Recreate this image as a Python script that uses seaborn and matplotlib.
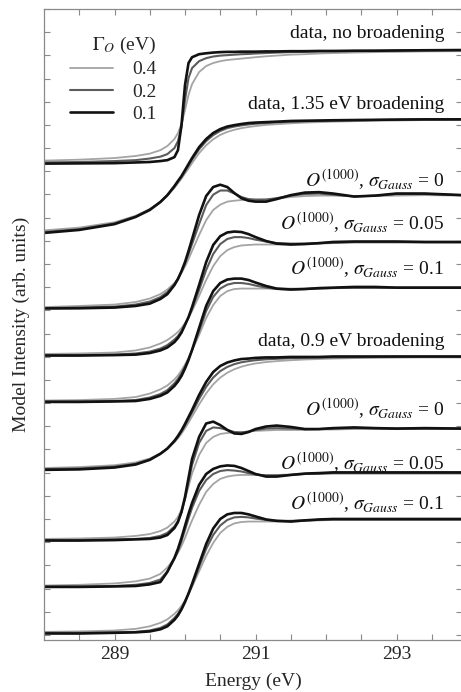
import numpy as np
import pandas as pd
import matplotlib
matplotlib.use('Agg')
import matplotlib.pyplot as plt
import seaborn as sns
from matplotlib.lines import Line2D
from matplotlib.ticker import FixedLocator

sns.set_style('ticks')
plt.rcParams['font.family'] = ['Liberation Serif', 'DejaVu Serif']
plt.rcParams['mathtext.fontset'] = 'stix'

# ---------------- data ----------------
energy = [288.0, 288.5, 289.0, 289.3, 289.5, 289.65, 289.75, 289.85, 289.9, 289.95,
          290.0, 290.05, 290.1, 290.2, 290.3, 290.4, 290.5, 290.6, 290.7, 290.8,
          290.9, 291.0, 291.15, 291.3, 291.5, 291.7, 291.9, 292.1, 292.4, 292.7,
          293.0, 293.4, 293.94]

gamma_levels = ['0.4', '0.2', '0.1']

# data, no broadening
g1_04 = [0.46, 0.50, 0.57, 0.66, 0.76, 0.91, 1.09, 1.39, 1.65, 2.04, 2.64, 3.29, 3.76, 4.28, 4.54, 4.67, 4.75, 4.80, 4.83, 4.86, 4.89, 4.92, 4.96, 4.99, 5.03, 5.05, 5.08, 5.10, 5.12, 5.14, 5.15, 5.17, 5.18]
g1_02 = [0.38, 0.40, 0.44, 0.48, 0.55, 0.63, 0.74, 1.00, 1.30, 1.91, 3.07, 4.02, 4.45, 4.75, 4.88, 4.95, 4.99, 5.01, 5.03, 5.05, 5.06, 5.08, 5.10, 5.12, 5.14, 5.15, 5.17, 5.18, 5.19, 5.20, 5.21, 5.22, 5.23]
g1_01 = [0.33, 0.34, 0.35, 0.38, 0.40, 0.44, 0.48, 0.61, 0.91, 1.99, 3.72, 4.67, 4.92, 5.05, 5.09, 5.12, 5.14, 5.15, 5.15, 5.16, 5.16, 5.16, 5.17, 5.17, 5.18, 5.18, 5.19, 5.19, 5.20, 5.20, 5.21, 5.22, 5.23]
# data, 1.35 eV broadening
g2_04 = [0.45, 0.57, 0.80, 1.08, 1.37, 1.68, 1.95, 2.28, 2.48, 2.68, 2.90, 3.12, 3.35, 3.78, 4.12, 4.38, 4.57, 4.70, 4.79, 4.86, 4.91, 4.95, 5.00, 5.03, 5.07, 5.10, 5.12, 5.14, 5.16, 5.18, 5.19, 5.21, 5.22]
g2_02 = [0.38, 0.50, 0.75, 1.05, 1.35, 1.68, 1.97, 2.34, 2.55, 2.76, 3.00, 3.25, 3.50, 3.95, 4.30, 4.56, 4.74, 4.86, 4.93, 4.98, 5.02, 5.05, 5.08, 5.11, 5.14, 5.16, 5.17, 5.18, 5.20, 5.21, 5.22, 5.23, 5.24]
g2_01 = [0.34, 0.47, 0.72, 1.03, 1.33, 1.67, 1.97, 2.36, 2.58, 2.79, 3.05, 3.31, 3.57, 4.04, 4.39, 4.65, 4.82, 4.93, 4.99, 5.04, 5.08, 5.10, 5.12, 5.14, 5.17, 5.18, 5.19, 5.20, 5.21, 5.22, 5.23, 5.24, 5.24]
# O(1000), sigma = 0 (upper)
g3_04 = [0.14, 0.19, 0.25, 0.36, 0.51, 0.70, 0.90, 1.18, 1.37, 1.61, 1.89, 2.21, 2.56, 3.25, 3.89, 4.33, 4.56, 4.69, 4.73, 4.76, 4.76, 4.76, 4.78, 4.82, 4.89, 4.93, 4.95, 4.95, 4.93, 4.93, 4.95, 4.97, 4.95]
g3_02 = [0.10, 0.12, 0.16, 0.25, 0.38, 0.57, 0.79, 1.13, 1.37, 1.67, 2.02, 2.43, 2.86, 3.72, 4.54, 4.99, 5.17, 5.17, 5.04, 4.89, 4.80, 4.78, 4.78, 4.84, 4.95, 5.02, 5.04, 4.99, 4.91, 4.95, 5.02, 5.02, 4.97]
g3_01 = [0.08, 0.09, 0.12, 0.19, 0.29, 0.49, 0.70, 1.09, 1.35, 1.69, 2.08, 2.56, 3.07, 4.11, 4.93, 5.32, 5.42, 5.32, 5.06, 4.84, 4.73, 4.69, 4.69, 4.80, 4.97, 5.08, 5.10, 5.04, 4.91, 4.95, 5.04, 5.04, 4.97]
# O(1000), sigma = 0.05 (upper)
g4_04 = [0.12, 0.14, 0.18, 0.27, 0.40, 0.57, 0.72, 0.94, 1.07, 1.24, 1.45, 1.69, 1.97, 2.62, 3.31, 3.91, 4.34, 4.60, 4.73, 4.80, 4.82, 4.84, 4.84, 4.84, 4.84, 4.86, 4.88, 4.90, 4.92, 4.92, 4.92, 4.92, 4.92]
g4_02 = [0.07, 0.07, 0.09, 0.14, 0.22, 0.35, 0.50, 0.74, 0.89, 1.11, 1.39, 1.69, 2.06, 2.88, 3.74, 4.43, 4.86, 5.08, 5.16, 5.16, 5.12, 5.05, 4.97, 4.90, 4.88, 4.88, 4.90, 4.92, 4.95, 4.95, 4.95, 4.95, 4.95]
g4_01 = [0.05, 0.05, 0.07, 0.09, 0.16, 0.27, 0.40, 0.63, 0.81, 1.04, 1.37, 1.71, 2.14, 3.09, 4.08, 4.82, 5.20, 5.36, 5.40, 5.38, 5.29, 5.16, 4.99, 4.88, 4.84, 4.86, 4.90, 4.95, 4.97, 4.97, 4.97, 4.95, 4.95]
# O(1000), sigma = 0.1 (upper)
g5_04 = [0.11, 0.13, 0.18, 0.26, 0.41, 0.59, 0.76, 1.02, 1.19, 1.41, 1.66, 1.94, 2.27, 2.94, 3.67, 4.23, 4.62, 4.83, 4.92, 4.94, 4.94, 4.94, 4.94, 4.94, 4.94, 4.94, 4.96, 4.96, 4.96, 4.96, 4.96, 4.96, 4.96]
g5_02 = [0.07, 0.07, 0.09, 0.13, 0.24, 0.39, 0.56, 0.85, 1.04, 1.28, 1.58, 1.92, 2.29, 3.11, 3.97, 4.58, 4.94, 5.11, 5.18, 5.18, 5.14, 5.07, 4.98, 4.92, 4.90, 4.92, 4.94, 4.96, 4.98, 4.98, 4.98, 4.98, 4.98]
g5_01 = [0.05, 0.05, 0.07, 0.09, 0.18, 0.31, 0.46, 0.74, 0.93, 1.17, 1.49, 1.86, 2.29, 3.24, 4.19, 4.83, 5.18, 5.33, 5.37, 5.37, 5.31, 5.20, 5.05, 4.94, 4.90, 4.92, 4.96, 4.98, 5.01, 5.01, 4.98, 4.98, 4.98]
# data, 0.9 eV broadening
g6_04 = [0.20, 0.24, 0.32, 0.44, 0.61, 0.83, 1.03, 1.31, 1.48, 1.68, 1.91, 2.16, 2.42, 2.94, 3.42, 3.81, 4.10, 4.31, 4.46, 4.57, 4.65, 4.71, 4.77, 4.81, 4.85, 4.88, 4.90, 4.92, 4.94, 4.95, 4.96, 4.97, 4.97]
g6_02 = [0.15, 0.18, 0.26, 0.38, 0.57, 0.82, 1.04, 1.35, 1.54, 1.77, 2.03, 2.31, 2.59, 3.18, 3.70, 4.10, 4.38, 4.56, 4.68, 4.76, 4.81, 4.85, 4.89, 4.91, 4.94, 4.95, 4.96, 4.97, 4.98, 4.99, 5.00, 5.00, 5.00]
g6_01 = [0.12, 0.14, 0.22, 0.35, 0.55, 0.81, 1.04, 1.37, 1.58, 1.82, 2.10, 2.40, 2.70, 3.35, 3.91, 4.34, 4.60, 4.75, 4.84, 4.90, 4.92, 4.95, 4.97, 4.97, 4.99, 4.99, 4.99, 5.01, 5.01, 5.01, 5.01, 5.01, 5.01]
# O(1000), sigma = 0 (lower)
g7_04 = [0.14, 0.16, 0.20, 0.27, 0.35, 0.48, 0.63, 0.89, 1.09, 1.41, 1.86, 2.40, 2.96, 3.76, 4.28, 4.54, 4.67, 4.71, 4.73, 4.75, 4.77, 4.80, 4.82, 4.84, 4.84, 4.84, 4.86, 4.86, 4.88, 4.88, 4.88, 4.88, 4.88]
g7_02 = [0.09, 0.09, 0.12, 0.14, 0.18, 0.27, 0.40, 0.68, 0.91, 1.30, 1.86, 2.60, 3.33, 4.28, 4.80, 4.95, 4.92, 4.84, 4.75, 4.73, 4.77, 4.84, 4.90, 4.92, 4.90, 4.88, 4.88, 4.90, 4.92, 4.92, 4.90, 4.90, 4.90]
g7_01 = [0.07, 0.07, 0.09, 0.12, 0.14, 0.20, 0.31, 0.61, 0.87, 1.30, 1.95, 2.77, 3.59, 4.54, 5.12, 5.20, 5.05, 4.84, 4.69, 4.67, 4.75, 4.88, 4.99, 5.03, 4.97, 4.88, 4.88, 4.92, 4.95, 4.92, 4.90, 4.92, 4.90]
# O(1000), sigma = 0.05 (lower)
g8_04 = [0.13, 0.16, 0.22, 0.31, 0.43, 0.63, 0.91, 1.30, 1.54, 1.84, 2.18, 2.57, 2.94, 3.61, 4.17, 4.51, 4.73, 4.83, 4.88, 4.90, 4.90, 4.90, 4.90, 4.90, 4.92, 4.94, 4.94, 4.96, 4.96, 4.96, 4.96, 4.96, 4.96]
g8_02 = [0.09, 0.09, 0.11, 0.16, 0.24, 0.39, 0.74, 1.28, 1.62, 2.05, 2.53, 3.02, 3.48, 4.21, 4.68, 4.94, 5.07, 5.11, 5.09, 5.05, 4.98, 4.92, 4.88, 4.88, 4.90, 4.94, 4.96, 4.98, 4.98, 4.98, 4.98, 4.98, 4.98]
g8_01 = [0.07, 0.07, 0.09, 0.11, 0.18, 0.28, 0.72, 1.32, 1.71, 2.18, 2.70, 3.22, 3.69, 4.47, 4.94, 5.16, 5.27, 5.31, 5.29, 5.20, 5.07, 4.94, 4.83, 4.83, 4.90, 4.96, 4.98, 5.01, 5.01, 5.01, 5.01, 5.01, 5.01]
# O(1000), sigma = 0.1 (lower)
g9_04 = [0.13, 0.15, 0.19, 0.26, 0.37, 0.52, 0.67, 0.91, 1.06, 1.25, 1.49, 1.77, 2.07, 2.74, 3.41, 3.97, 4.40, 4.66, 4.81, 4.87, 4.89, 4.89, 4.89, 4.89, 4.89, 4.92, 4.94, 4.96, 4.96, 4.96, 4.96, 4.96, 4.96]
g9_02 = [0.09, 0.09, 0.11, 0.13, 0.19, 0.30, 0.45, 0.73, 0.91, 1.14, 1.44, 1.77, 2.13, 2.93, 3.71, 4.31, 4.72, 4.96, 5.07, 5.09, 5.07, 5.02, 4.96, 4.92, 4.92, 4.94, 4.96, 4.98, 4.98, 4.98, 4.98, 4.98, 4.98]
g9_01 = [0.06, 0.06, 0.09, 0.11, 0.15, 0.24, 0.37, 0.65, 0.84, 1.10, 1.42, 1.79, 2.20, 3.06, 3.92, 4.59, 5.00, 5.20, 5.26, 5.26, 5.20, 5.11, 4.98, 4.92, 4.89, 4.94, 4.98, 5.00, 5.00, 5.00, 5.00, 5.00, 5.00]

offsets = [20, 17, 14, 12, 10, 7, 4, 2, 0]

curve_labels = ['data, no broadening',
                'data, 1.35 eV broadening',
                r'$O^{(1000)}$, $\sigma_{Gauss}$ = 0',
                r'$O^{(1000)}$, $\sigma_{Gauss}$ = 0.05',
                r'$O^{(1000)}$, $\sigma_{Gauss}$ = 0.1',
                'data, 0.9 eV broadening',
                r'$O^{(1000)}$, $\sigma_{Gauss}$ = 0',
                r'$O^{(1000)}$, $\sigma_{Gauss}$ = 0.05',
                r'$O^{(1000)}$, $\sigma_{Gauss}$ = 0.1']
label_y = [25.76, 22.70, 19.36, 17.48, 15.55, 12.47, 9.46, 7.15, 5.42]

groups = [(g1_04, g1_02, g1_01), (g2_04, g2_02, g2_01), (g3_04, g3_02, g3_01),
          (g4_04, g4_02, g4_01), (g5_04, g5_02, g5_01), (g6_04, g6_02, g6_01),
          (g7_04, g7_02, g7_01), (g8_04, g8_02, g8_01), (g9_04, g9_02, g9_01)]

# ---------------- long table ----------------
rows = []
for gi, (trio, off) in enumerate(zip(groups, offsets)):
    for lev, vals in zip(gamma_levels, trio):
        for e, v in zip(energy, vals):
            rows.append({'group': gi, 'gamma': lev, 'energy': e, 'intensity': v + off})
df = pd.DataFrame(rows)

palette = {'0.4': '#a4a4a4', '0.2': '#5c5c5c', '0.1': '#111111'}
sizes = {'0.4': 1.3, '0.2': 1.5, '0.1': 1.9}

# ---------------- figure ----------------
W, H = 461, 692
fig = plt.figure(figsize=(W / 100, H / 100), dpi=100)
ax = fig.add_axes([44 / W, 1 - 640 / H, (462 - 44) / W, (640 - 9) / H])

for gi in range(len(groups)):
    sns.lineplot(data=df[df['group'] == gi], x='energy', y='intensity',
                 hue='gamma', hue_order=gamma_levels, palette=palette,
                 size='gamma', size_order=gamma_levels, sizes=sizes,
                 estimator=None, sort=False, legend=False, ax=ax)

for txt, yy in zip(curve_labels, label_y):
    ax.text(293.68, yy, txt, ha='right', va='baseline', fontsize=14, color='#111111')

ax.set_xlim(288.0, 288.0 + (462 - 44) / 70.5)
ax.set_ylim(-0.22, 27.0)
ax.set_xticks([289, 291, 293])
ax.set_xticklabels(['289', '291', '293'], fontsize=14)
ax.xaxis.set_minor_locator(FixedLocator([288.5, 289.5, 290, 290.5, 291.5, 292, 292.5, 293.5]))
ax.set_yticks(range(0, 28))
ax.set_yticklabels([])
ax.tick_params(which='both', direction='in', length=4, width=0.8, color='#8a8a8a',
               top=True, right=True, pad=4)
for sp in ax.spines.values():
    sp.set_color('#8a8a8a')
    sp.set_linewidth(0.9)

ax.set_xlabel('Energy (eV)', fontsize=14, labelpad=7)
ax.set_ylabel('Model Intensity (arb. units)', fontsize=14, labelpad=6)

handles = [Line2D([], [], color=palette[l], lw=sizes[l]) for l in gamma_levels]
leg = ax.legend(handles, gamma_levels, title=r'$\Gamma_O$ (eV)', frameon=False,
                loc='upper left', bbox_to_anchor=(70 / W, 1 - 35 / H),
                bbox_transform=fig.transFigure, handlelength=2.2, handletextpad=1.0,
                labelspacing=0.24, borderpad=0, borderaxespad=0,
                fontsize=14, title_fontsize=14)
leg._legend_box.align = 'right'

fig.savefig('out.png', dpi=100)
